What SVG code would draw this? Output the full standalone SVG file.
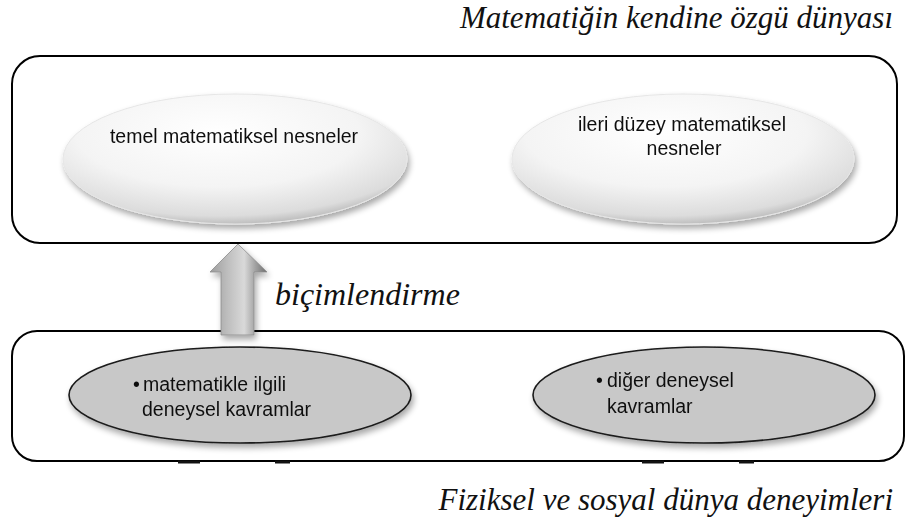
<svg xmlns="http://www.w3.org/2000/svg" width="908" height="526" viewBox="0 0 908 526">
<defs>
<radialGradient id="gTop" cx="0.45" cy="0.3" r="0.75">
<stop offset="0" stop-color="#ffffff"/>
<stop offset="0.55" stop-color="#f4f4f4"/>
<stop offset="0.85" stop-color="#dcdcdc"/>
<stop offset="1" stop-color="#a8a8a8"/>
</radialGradient>
<linearGradient id="gArrow" x1="0" y1="0" x2="1" y2="0">
<stop offset="0" stop-color="#9c9c9c"/>
<stop offset="0.3" stop-color="#bdbdbd"/>
<stop offset="0.6" stop-color="#d9d9d9"/>
<stop offset="0.8" stop-color="#a0a0a0"/>
<stop offset="1" stop-color="#6e6e6e"/>
</linearGradient>
<filter id="shadow" x="-10%" y="-10%" width="125%" height="135%">
<feGaussianBlur in="SourceAlpha" stdDeviation="3"/>
<feOffset dx="2" dy="4" result="b"/>
<feComponentTransfer><feFuncA type="linear" slope="0.35"/></feComponentTransfer>
<feMerge><feMergeNode/><feMergeNode in="SourceGraphic"/></feMerge>
</filter>
</defs>
<style>
.box{fill:#ffffff;stroke:#000000;stroke-width:2}
.topEl{fill:url(#gTop);stroke:#e6e6e6;stroke-width:1}
.botEl{fill:#c8c8c8;stroke:#1a1a1a;stroke-width:1.6}
.lbl{font-family:"Liberation Sans",Arial,sans-serif;font-size:19.5px;fill:#111111}
.ttl{font-family:"Liberation Serif","Times New Roman",serif;font-style:italic;font-size:31px;fill:#111111}
.tick{stroke:#111111;stroke-width:3}
</style>
<g id="frame-top">
<rect class="box" x="12" y="56" width="885" height="187" rx="28" ry="28"/>
</g>
<g id="frame-bottom">
<rect class="box" x="12" y="331" width="892" height="130" rx="25" ry="25"/>
</g>
<text class="ttl" x="893" y="28" text-anchor="end">Matematiğin kendine özgü dünyası</text>
<text class="ttl" x="893" y="510" text-anchor="end">Fiziksel ve sosyal dünya deneyimleri</text>
<g id="node-temel" filter="url(#shadow)">
<ellipse class="topEl" cx="235" cy="159" rx="172" ry="65"/>
<text class="lbl" x="234" y="143" text-anchor="middle">temel matematiksel nesneler</text>
</g>
<g id="node-ileri" filter="url(#shadow)">
<ellipse class="topEl" cx="683" cy="159" rx="171" ry="65"/>
<text class="lbl" x="682" y="131" text-anchor="middle">ileri düzey matematiksel</text>
<text class="lbl" x="684" y="155" text-anchor="middle">nesneler</text>
</g>
<g id="node-matematikle" filter="url(#shadow)">
<ellipse class="botEl" cx="240" cy="395" rx="171" ry="48"/>
<text class="lbl" x="133" y="391">•<tspan x="143">matematikle ilgili</tspan></text>
<text class="lbl" x="142" y="416">deneysel kavramlar</text>
</g>
<g id="node-diger" filter="url(#shadow)">
<ellipse class="botEl" cx="704" cy="395" rx="171" ry="48"/>
<text class="lbl" x="596" y="387">•<tspan x="607">diğer deneysel</tspan></text>
<text class="lbl" x="607" y="413">kavramlar</text>
</g>
<g id="connectors">
<g id="arrow-bicimlendirme" filter="url(#shadow)">
<polygon points="238,244 267,272 254,272 254,335 221,335 221,272 210,272" fill="url(#gArrow)" stroke="#8a8a8a" stroke-width="0.8"/>
</g>
<text class="ttl" x="275" y="305" style="font-size:32px">biçimlendirme</text>
</g>
<g id="ticks">
<line class="tick" x1="178" y1="462" x2="200" y2="462"/>
<line class="tick" x1="275" y1="462" x2="290" y2="462"/>
<line class="tick" x1="642" y1="462" x2="664" y2="462"/>
<line class="tick" x1="739" y1="462" x2="754" y2="462"/>
</g>
</svg>
